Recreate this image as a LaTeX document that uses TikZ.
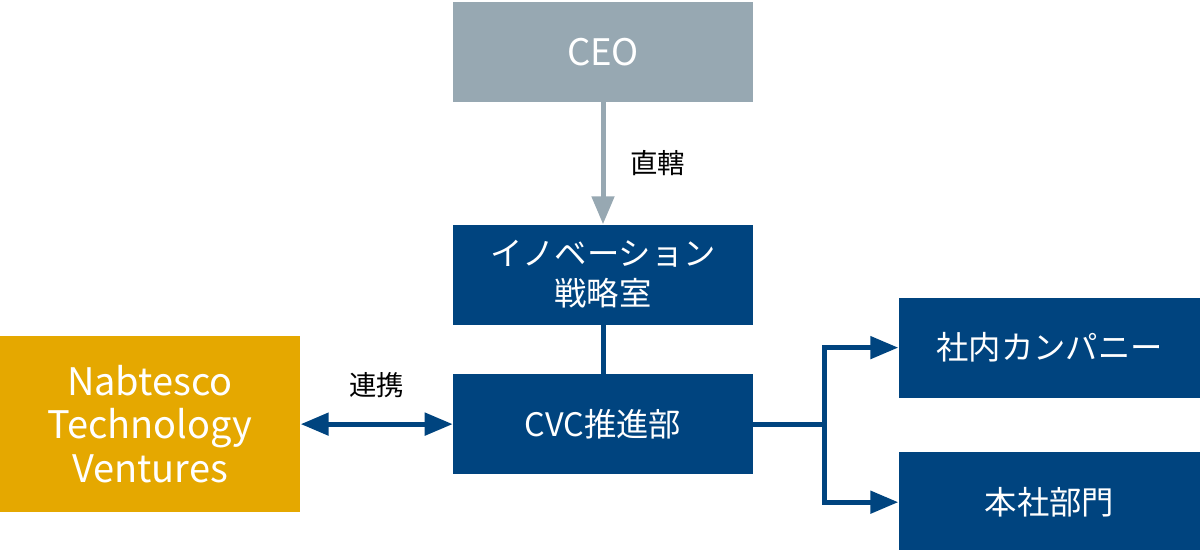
\documentclass[tikz,border=0pt]{standalone}
\usepackage{fontspec}
\setmainfont{Noto Sans CJK JP}
\usepackage{xcolor}
\usepackage{tikz}
\usetikzlibrary{arrows.meta,positioning,calc}
\definecolor{unitfill}{HTML}{00447F}
\definecolor{headfill}{HTML}{97A8B2}
\definecolor{partnerfill}{HTML}{E5A800}

\begin{document}
\begin{tikzpicture}[
  unit/.style={fill=unitfill, text=white, minimum width=7.5cm, minimum height=2.5cm, align=center, inner sep=0pt, font=\fontsize{23}{28.5}\selectfont},
  head/.style={fill=headfill, text=white, minimum width=7.5cm, minimum height=2.5cm, align=center, inner sep=0pt, font=\fontsize{26}{31}\selectfont},
  partner/.style={fill=partnerfill, text=white, minimum width=7.525cm, minimum height=4.4cm, align=center, inner sep=0pt, font=\fontsize{27}{30.6}\selectfont},
  lbl/.style={inner sep=0pt, text=black, font=\fontsize{19.5}{23}\selectfont},
  arr/.style={-{Triangle[length=0.7cm, width=0.55cm]}, line width=0.125cm, unitfill},
  link/.style={line width=0.125cm, unitfill}
]
  \useasboundingbox (0,0) rectangle (30,-13.75);
  \node[head] (ceo) at (15.075,-1.3) {CEO};
  \node[unit, below=3.05cm of ceo] (innov) {イノベーション\\戦略室};
  \node[unit, below=1.225cm of innov] (cvc) {CVC推進部};
  \node[partner, left=3.8cm of cvc] (ntv) {Nabtesco\\Technology\\Ventures};
  \node[unit, right=3.625cm of cvc, yshift=1.9125cm, minimum width=7.55cm] (company) {社内カンパニー};
  \node[unit, below=1.35cm of company, minimum width=7.55cm] (hq) {本社部門};
  \coordinate (fork) at ($(cvc.east)+(1.775,0)$);

  \draw[arr, headfill] (ceo) -- node[lbl, right=0.625cm] {直轄} (innov);
  \draw[link] (innov) -- (cvc);
  \draw[arr, {Triangle[length=0.7cm, width=0.55cm]}-{Triangle[length=0.7cm, width=0.55cm]}] (ntv) -- node[lbl, above=0.6cm] {連携} (cvc);
  \draw[link] (cvc.east) -- (fork);
  \draw[arr] (fork) |- (company.west);
  \draw[arr] (fork) |- (hq.west);
\end{tikzpicture}
\end{document}
